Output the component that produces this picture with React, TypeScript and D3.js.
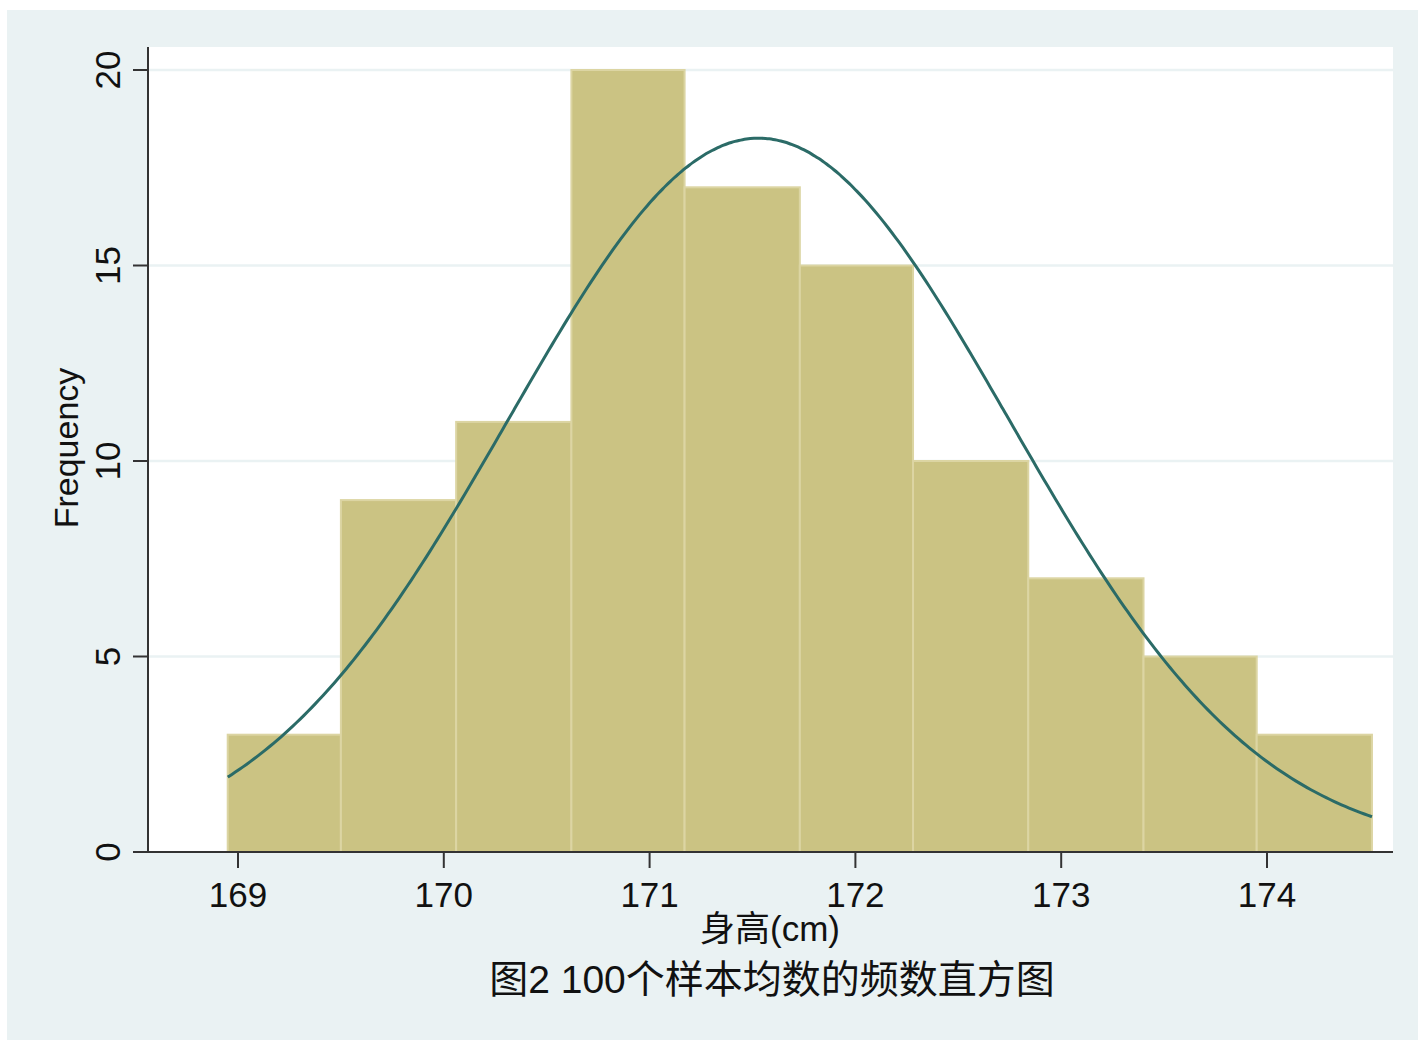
import React, { useEffect, useRef } from 'react';
import * as d3 from 'd3';

// histogram of 100 sample means
const binEdges = [168.95, 169.5, 170.06, 170.62, 171.17, 171.73, 172.28, 172.84, 173.4, 173.95, 174.51];
const counts = [3, 9, 11, 20, 17, 15, 10, 7, 5, 3];
const xTicks = [169, 170, 171, 172, 173, 174];
const yTicks = [0, 5, 10, 15, 20];
// fitted normal curve parameters
const fitMean = 171.53;
const fitSd = 1.215;
const sampleSize = 100;

const W = 1418;
const H = 1040;

export default function App() {
  const ref = useRef<SVGSVGElement>(null);

  useEffect(() => {
    const svg = d3.select(ref.current);
    svg.selectAll('*').remove();
    const font = '"Liberation Sans", Arial, "Noto Sans CJK SC", sans-serif';

    const plot = { left: 148, right: 1393, top: 47, bottom: 852 };
    const x = d3.scaleLinear().domain([169, 174]).range([238, 1267]);
    const y = d3.scaleLinear().domain([0, 20]).range([852, 70]);

    svg.append('rect').attr('x', 7).attr('y', 10).attr('width', W - 7).attr('height', H - 10).attr('fill', '#eaf2f3');
    svg.append('rect')
      .attr('x', plot.left).attr('y', plot.top)
      .attr('width', plot.right - plot.left).attr('height', plot.bottom - plot.top)
      .attr('fill', '#ffffff');

    const g = svg.append('g');

    // grid
    g.selectAll('line.grid').data(yTicks.filter((d) => d > 0)).enter().append('line')
      .attr('x1', plot.left).attr('x2', plot.right)
      .attr('y1', (d) => y(d)).attr('y2', (d) => y(d))
      .attr('stroke', '#eaf2f3').attr('stroke-width', 2.5);

    // bars
    g.selectAll('rect.bar').data(counts).enter().append('rect')
      .attr('x', (d, i) => x(binEdges[i]))
      .attr('width', (d, i) => x(binEdges[i + 1]) - x(binEdges[i]))
      .attr('y', (d) => y(d))
      .attr('height', (d) => y(0) - y(d))
      .attr('fill', '#cbc383')
      .attr('stroke', '#dcd5a3')
      .attr('stroke-width', 2);

    // normal density curve scaled to counts
    const bw = (binEdges[binEdges.length - 1] - binEdges[0]) / counts.length;
    const dens = (v: number) =>
      (sampleSize * bw) / (fitSd * Math.sqrt(2 * Math.PI)) * Math.exp(-0.5 * ((v - fitMean) / fitSd) ** 2);
    const xs = d3.range(0, 301).map((i) => binEdges[0] + (i / 300) * (binEdges[binEdges.length - 1] - binEdges[0]));
    g.append('path')
      .datum(xs)
      .attr('fill', 'none')
      .attr('stroke', '#2b6b67')
      .attr('stroke-width', 3)
      .attr('d', d3.line<number>().x((d) => x(d)).y((d) => y(dens(d))).curve(d3.curveBasis));

    // axes
    g.append('line').attr('x1', plot.left).attr('x2', plot.left).attr('y1', plot.top).attr('y2', plot.bottom)
      .attr('stroke', '#333').attr('stroke-width', 2);
    g.append('line').attr('x1', plot.left).attr('x2', plot.right).attr('y1', plot.bottom).attr('y2', plot.bottom)
      .attr('stroke', '#333').attr('stroke-width', 2);

    g.selectAll('line.yt').data(yTicks).enter().append('line')
      .attr('x1', 133).attr('x2', plot.left)
      .attr('y1', (d) => y(d)).attr('y2', (d) => y(d))
      .attr('stroke', '#333').attr('stroke-width', 2);
    g.selectAll('text.yt').data(yTicks).enter().append('text')
      .attr('transform', (d) => `translate(120,${y(d)}) rotate(-90)`)
      .attr('text-anchor', 'middle')
      .attr('font-family', font).attr('font-size', 35).attr('fill', '#111')
      .text((d) => d);

    g.selectAll('line.xt').data(xTicks).enter().append('line')
      .attr('x1', (d) => x(d)).attr('x2', (d) => x(d))
      .attr('y1', plot.bottom).attr('y2', 868)
      .attr('stroke', '#333').attr('stroke-width', 2);
    g.selectAll('text.xt').data(xTicks).enter().append('text')
      .attr('x', (d) => x(d)).attr('y', 907)
      .attr('text-anchor', 'middle')
      .attr('font-family', font).attr('font-size', 35).attr('fill', '#111')
      .text((d) => d);

    g.append('text')
      .attr('transform', 'translate(78,448) rotate(-90)')
      .attr('text-anchor', 'middle')
      .attr('font-family', font).attr('font-size', 34).attr('fill', '#111')
      .text('Frequency');

    g.append('text')
      .attr('x', 770).attr('y', 941)
      .attr('text-anchor', 'middle')
      .attr('font-family', font).attr('font-size', 35).attr('fill', '#111')
      .text('身高(cm)');

    g.append('text')
      .attr('x', 772).attr('y', 993)
      .attr('text-anchor', 'middle')
      .attr('font-family', font).attr('font-size', 39).attr('fill', '#111')
      .text('图2 100个样本均数的频数直方图');
  }, []);

  return (
    <div style={{ position: 'absolute', left: 0, top: 0 }}>
      <svg ref={ref} width={W} height={H} style={{ display: 'block' }}></svg>
    </div>
  );
}
